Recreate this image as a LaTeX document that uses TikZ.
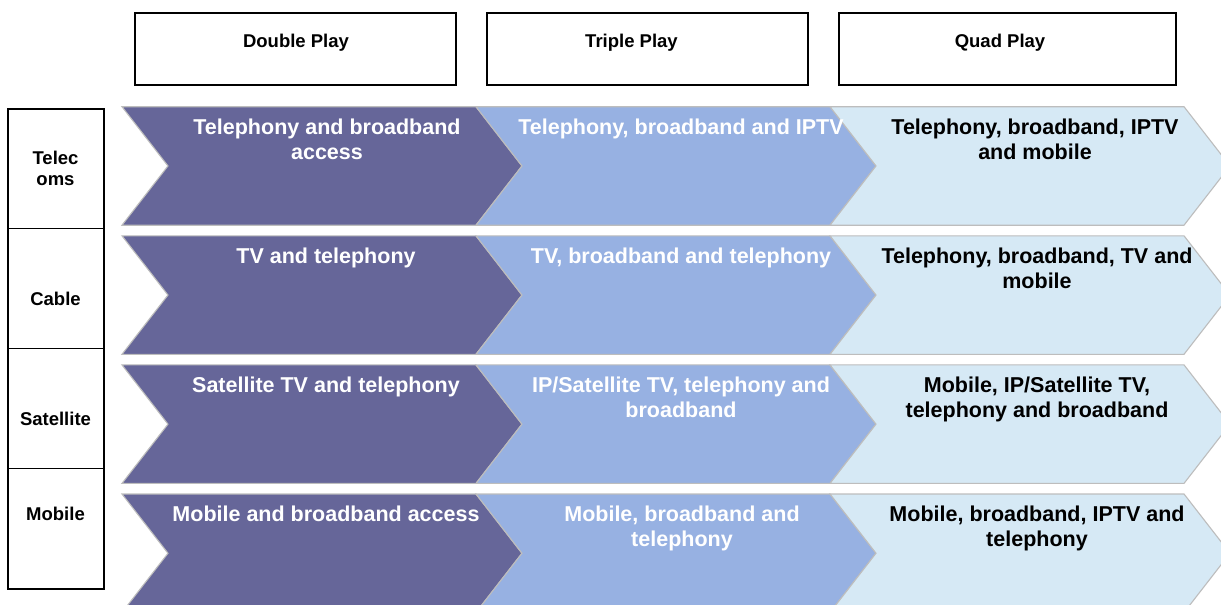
\documentclass[tikz,border=0pt]{standalone}
\usepackage{fontspec}
\setmainfont{Liberation Sans}
\definecolor{darkband}{HTML}{666699}
\definecolor{midband}{HTML}{97B1E2}
\definecolor{lightband}{HTML}{D6E9F5}
\definecolor{bandedge}{HTML}{BDBDBD}
\tikzset{
  band/.style={draw=bandedge, line width=1.1pt, line join=miter},
  hdrbox/.style={draw=black, line width=1.4pt, fill=white},
  hdrtext/.style={font=\bfseries\fontsize{18.5}{21}\selectfont, anchor=base, inner sep=0pt},
  rowtext/.style={font=\bfseries\fontsize{18.5}{21}\selectfont, align=center, anchor=base, inner sep=0pt},
  celltext/.style={font=\bfseries\fontsize{21.5}{25}\selectfont, align=center, anchor=north, inner sep=0pt},
  onlight/.style={celltext, text=black},
  ondark/.style={celltext, text=white},
}
\begin{document}
\begin{tikzpicture}[x=1pt, y=-1pt]
\useasboundingbox (0,0) rectangle (1221,605);
\clip (0,0) rectangle (1221,605);
\fill[white] (0,0) rectangle (1221,605);

% column headers
\draw[hdrbox] (135,13) rectangle (456,85);
\draw[hdrbox] (487,13) rectangle (808,85);
\draw[hdrbox] (839,13) rectangle (1176,85);
\node[hdrtext] (hdouble) at (296,47.5) {Double Play};
\node[hdrtext] (htriple) at (631.5,47.5) {Triple Play};
\node[hdrtext] (hquad) at (1000,47.5) {Quad Play};

% row labels on the left (a multi-line node sits on its last baseline)
\draw[black, line width=1.4pt] (8,109) rectangle (104,589);
\foreach \yy in {228.7,348.7,468.7}
  \draw[black, line width=1.4pt] (8,\yy) -- (104,\yy);
\node[rowtext] (ltel) at (55.5,185.3) {Telec\\oms};
\node[rowtext] (lcab) at (55.5,305.7) {Cable};
\node[rowtext] (lsat) at (55.5,425) {Satellite};
\node[rowtext] (lmob) at (55.5,520) {Mobile};

% chevron bands: one row every 129.1, three columns
\foreach \r in {0,1,2,3}{
  \pgfmathsetmacro{\yt}{106.7+129.1*\r}
  \pgfmathsetmacro{\ym}{\yt+59.25}
  \pgfmathsetmacro{\yb}{\yt+118.5}
  \foreach \xa/\col in {122/darkband,476/midband,830/lightband}{
    \pgfmathsetmacro{\xb}{\xa+354}
    \draw[band, fill=\col] (\xa,\yt) -- (\xb,\yt) -- (\xb+46,\ym) -- (\xb,\yb)
      -- (\xa,\yb) -- (\xa+46,\ym) -- cycle;
  }
}

% Telecoms row
\node[ondark] (t1) at (327,118.5) {Telephony and broadband\\access};
\node[ondark] (t2) at (681,118.5) {Telephony, broadband and IPTV};
\node[onlight] (t3) at (1035,118.5) {Telephony, broadband, IPTV\\and mobile};
% Cable row
\node[ondark] (c1) at (326,247.6) {TV and telephony};
\node[ondark] (c2) at (681,247.6) {TV, broadband and telephony};
\node[onlight] (c3) at (1037,247.6) {Telephony, broadband, TV and\\mobile};
% Satellite row
\node[ondark] (s1) at (326,376.7) {Satellite TV and telephony};
\node[ondark] (s2) at (681,376.7) {IP/Satellite TV, telephony and\\broadband};
\node[onlight] (s3) at (1037,376.7) {Mobile, IP/Satellite TV,\\telephony and broadband};
% Mobile row
\node[ondark] (m1) at (326,505.8) {Mobile and broadband access};
\node[ondark] (m2) at (682,505.8) {Mobile, broadband and\\telephony};
\node[onlight] (m3) at (1037,505.8) {Mobile, broadband, IPTV and\\telephony};
\end{tikzpicture}
\end{document}
